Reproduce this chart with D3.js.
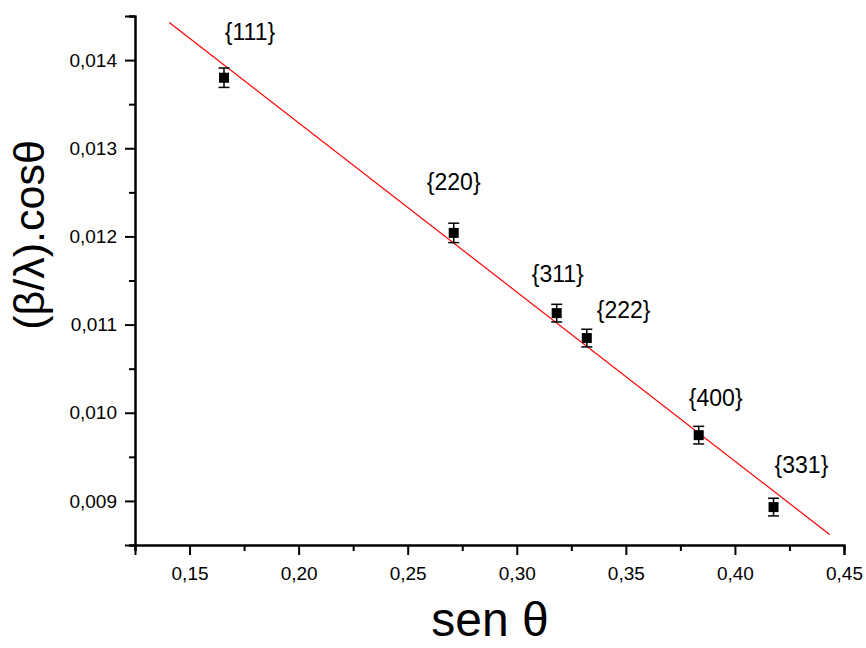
<!DOCTYPE html>
<html>
<head>
<meta charset="utf-8">
<script src="https://cdn.jsdelivr.net/npm/d3@7"></script>
<style>
  body { margin: 0; background: #fff; }
  svg text { font-family: "Liberation Sans", Arial, sans-serif; fill: #000; }
</style>
</head>
<body>
<svg id="chart" width="866" height="648"></svg>
<script>
// planes and their (sen theta, beta/lambda cos theta) values
var planes = ['{111}', '{220}', '{311}', '{222}', '{400}', '{331}'];
var senTheta = [0.1658, 0.2711, 0.3183, 0.3321, 0.3834, 0.4177];
var betaCos = [0.01380, 0.01204, 0.01113, 0.010847, 0.009746, 0.00893];
var errBar = [0.00011, 0.00011, 0.00010, 0.00010, 0.00010, 0.00010];
// where each plane label sits, in data units
var labelX = [0.1777, 0.2711, 0.3188, 0.3490, 0.3912, 0.4305];
var labelY = [0.01423, 0.012527, 0.011483, 0.011074, 0.010076, 0.009315];
// linear fit drawn in red
var fitX = [0.1407, 0.4434];
var fitIntercept = 0.017125;
var fitSlope = -0.019184;

var xTicks = [0.15, 0.20, 0.25, 0.30, 0.35, 0.40, 0.45];
var xMinor = [0.125, 0.175, 0.225, 0.275, 0.325, 0.375, 0.425];
var yTicks = [0.009, 0.010, 0.011, 0.012, 0.013, 0.014];
var yMinor = [0.0085, 0.0095, 0.0105, 0.0115, 0.0125, 0.0135, 0.0145];

var svg = d3.select('#chart');

var x = d3.scaleLinear().domain([0.125, 0.45]).range([135, 844]);
var y = d3.scaleLinear().domain([0.0085, 0.0145]).range([545, 16]);

var comma = function(fmt){
    return function(d){ return d3.format(fmt)(d).replace('.', ','); };
};

// x axis
var xAxis = svg.append('g')
    .attr('transform', 'translate(0,' + y.range()[0] + ')');
xAxis.call(d3.axisBottom(x).tickValues(xMinor).tickSize(6).tickFormat(''));
xAxis.call(function(g){
    g.append('g').call(d3.axisBottom(x).tickValues(xTicks).tickSize(10)
        .tickPadding(12).tickFormat(comma('.2f')));
});

// y axis
var yAxis = svg.append('g')
    .attr('transform', 'translate(' + x.range()[0] + ',0)');
yAxis.call(d3.axisLeft(y).tickValues(yMinor).tickSize(6).tickFormat(''));
yAxis.call(function(g){
    g.append('g').call(d3.axisLeft(y).tickValues(yTicks).tickSize(10)
        .tickPadding(8).tickFormat(comma('.3f')));
});

svg.selectAll('.domain').attr('stroke-width', 2).attr('stroke', '#000');
svg.selectAll('.tick line').attr('stroke-width', 2).attr('stroke', '#000');
svg.selectAll('.tick text')
    .style('font-size', '19px');

// fit line
svg.append('line')
    .attr('x1', x(fitX[0]))
    .attr('y1', y(fitIntercept + fitSlope * fitX[0]))
    .attr('x2', x(fitX[1]))
    .attr('y2', y(fitIntercept + fitSlope * fitX[1]))
    .attr('stroke', '#ff0000')
    .attr('stroke-width', 1.2);

var pts = planes.map(function(p, i){
    return {name: p, x: senTheta[i], y: betaCos[i], e: errBar[i],
            lx: labelX[i], ly: labelY[i]};
});

// error bars
var eb = svg.append('g').attr('stroke', '#000').attr('stroke-width', 1.5);
pts.forEach(function(d){
    var cx = x(d.x);
    eb.append('line').attr('x1', cx).attr('x2', cx)
        .attr('y1', y(d.y + d.e)).attr('y2', y(d.y - d.e));
    [d.y + d.e, d.y - d.e].forEach(function(v){
        eb.append('line').attr('x1', cx - 5.5).attr('x2', cx + 5.5)
            .attr('y1', y(v)).attr('y2', y(v));
    });
});

// square markers
svg.append('g').selectAll('rect')
    .data(pts)
    .enter().append('rect')
    .attr('x', function(d){ return x(d.x) - 5; })
    .attr('y', function(d){ return y(d.y) - 5; })
    .attr('width', 10)
    .attr('height', 10)
    .attr('fill', '#000');

// plane labels
svg.append('g').selectAll('text')
    .data(pts)
    .enter().append('text')
    .attr('x', function(d){ return x(d.lx); })
    .attr('y', function(d){ return y(d.ly); })
    .attr('text-anchor', 'middle')
    .style('font-size', '23px')
    .text(function(d){ return d.name; });

// axis titles
svg.append('text')
    .attr('transform', 'translate(44,235) rotate(-90)')
    .attr('text-anchor', 'middle')
    .style('font-size', '43px')
    .text('(β/λ).cosθ');

svg.append('text')
    .attr('x', 490)
    .attr('y', 636)
    .attr('text-anchor', 'middle')
    .style('font-size', '48px')
    .text('sen θ');
</script>
</body>
</html>
